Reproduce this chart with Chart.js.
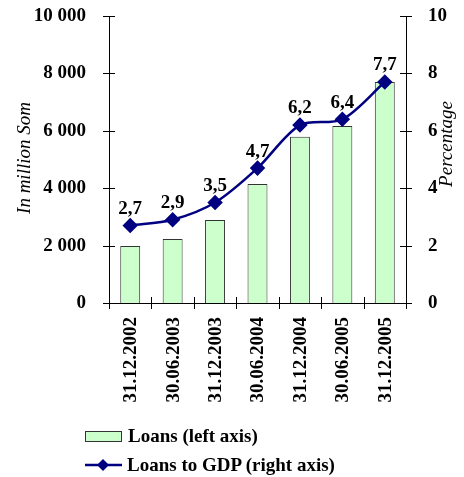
<!DOCTYPE html>
<html>
<head>
<meta charset="utf-8">
<script src="https://cdn.jsdelivr.net/npm/chart.js@4/dist/chart.umd.min.js"></script>
<style>
  html, body { margin: 0; padding: 0; background: #fff; }
  #wrap { position: relative; width: 464px; height: 477px; }
  #c { position: absolute; left: 0; top: 0; }
  .leg { position: absolute; left: 85px; font: 700 19px "Liberation Serif", "Times New Roman", serif; color: #000; display: flex; align-items: center; }
  .sw { width: 35px; height: 9px; background: #CCFFCC; border: 1px solid #333; margin-right: 6px; }
</style>
</head>
<body>
<div id="wrap">
  <canvas id="c" width="464" height="477"></canvas>
  <div class="leg" style="top:425px"><div class="sw"></div>Loans (left axis)</div>
  <div class="leg" style="top:454px">
    <svg width="42" height="14"><line x1="0" y1="7" x2="37" y2="7" stroke="#000080" stroke-width="2.5"/><polygon points="18,1 24,7 18,13 12,7" fill="#000080"/></svg>Loans to GDP (right axis)
  </div>
</div>
<script>
// categories and values
const dates = ['31.12.2002', '30.06.2003', '31.12.2003', '30.06.2004', '31.12.2004', '30.06.2005', '31.12.2005'];
const loans = [1990, 2230, 2890, 4150, 5790, 6170, 7700];   // million Som, left axis
const loansToGdp = [2.7, 2.9, 3.5, 4.7, 6.2, 6.4, 7.7];    // percent, right axis
const leftTicks = [0, 2000, 4000, 6000, 8000, 10000];
const rightTicks = [0, 2, 4, 6, 8, 10];

const serif = '"Liberation Serif", "Times New Roman", serif';

function fmtThousands(v) {
  return String(v).replace(/\B(?=(\d{3})+(?!\d))/g, ' ');
}

// tick marks crossing the axes, axis titles, rotated date labels, value labels
const excelBits = {
  id: 'excelBits',
  afterDraw(chart) {
    const ctx = chart.ctx;
    const a = chart.chartArea;
    const x = chart.scales.x, yl = chart.scales.yLeft, yr = chart.scales.yRight;
    ctx.save();
    ctx.strokeStyle = '#000';
    ctx.lineWidth = 1;
    ctx.beginPath();
    ctx.moveTo(a.left + 0.5, a.top); ctx.lineTo(a.left + 0.5, a.bottom + 0.5);
    ctx.moveTo(a.right + 0.5, a.top); ctx.lineTo(a.right + 0.5, a.bottom + 0.5);
    ctx.moveTo(a.left, a.bottom + 0.5); ctx.lineTo(a.right, a.bottom + 0.5);
    leftTicks.forEach(v => {
      const py = Math.round(yl.getPixelForValue(v)) + 0.5;
      ctx.moveTo(a.left - 6, py); ctx.lineTo(a.left + 6, py);
    });
    rightTicks.forEach(v => {
      const py = Math.round(yr.getPixelForValue(v)) + 0.5;
      ctx.moveTo(a.right - 6, py); ctx.lineTo(a.right + 6, py);
    });
    const w = (a.right - a.left) / dates.length;
    for (let i = 0; i <= dates.length; i++) {
      const px = Math.round(a.left + i * w) + 0.5;
      ctx.moveTo(px, a.bottom - 6); ctx.lineTo(px, a.bottom + 6);
    }
    ctx.stroke();

    ctx.fillStyle = '#000';

    // axis titles, both reading bottom to top
    ctx.font = 'italic 19px ' + serif;
    ctx.textAlign = 'center';
    ctx.textBaseline = 'middle';
    ctx.save();
    ctx.translate(25, 158);
    ctx.rotate(-Math.PI / 2);
    ctx.fillText('In million Som', 0, 0);
    ctx.restore();
    ctx.save();
    ctx.translate(447, 144);
    ctx.rotate(-Math.PI / 2);
    ctx.fillText('Percentage', 0, 0);
    ctx.restore();

    // date labels, reading bottom to top
    ctx.font = 'bold 19px ' + serif;
    ctx.textAlign = 'right';
    dates.forEach((d, i) => {
      const px = x.getPixelForValue(i);
      ctx.save();
      ctx.translate(px + 1, a.bottom + 14);
      ctx.rotate(-Math.PI / 2);
      ctx.fillText(d, 0, 0);
      ctx.restore();
    });

    // values above line points
    const meta = chart.getDatasetMeta(0);
    ctx.textAlign = 'center';
    ctx.textBaseline = 'bottom';
    meta.data.forEach((pt, i) => {
      ctx.fillText(loansToGdp[i].toFixed(1).replace('.', ','), pt.x, pt.y - 7);
    });
    ctx.restore();
  }
};

// keep tick label padding from pushing the plot area down
function trimPad(s) {
  s.paddingTop = 16;
  s.paddingBottom = 0;
}

new Chart(document.getElementById('c'), {
  data: {
    labels: dates,
    datasets: [
      {
        type: 'line',
        label: 'Loans to GDP (right axis)',
        data: loansToGdp,
        yAxisID: 'yRight',
        borderColor: '#000080',
        backgroundColor: '#000080',
        borderWidth: 2.5,
        tension: 0.3,
        pointStyle: 'rectRot',
        pointRadius: 6,
        pointHoverRadius: 6,
        order: 0
      },
      {
        type: 'bar',
        label: 'Loans (left axis)',
        data: loans,
        yAxisID: 'yLeft',
        backgroundColor: '#CCFFCC',
        borderColor: '#333333',
        borderWidth: 1,
        categoryPercentage: 1,
        barPercentage: 0.47,
        order: 1
      }
    ]
  },
  options: {
    responsive: false,
    animation: false,
    layout: { padding: { top: 16, bottom: 0, left: 0, right: 0 } },
    plugins: {
      legend: { display: false },
      tooltip: { enabled: false }
    },
    scales: {
      x: {
        grid: { display: false },
        border: { display: false },
        ticks: { display: false },
        afterFit(s) { s.height = 174; }
      },
      yLeft: {
        position: 'left',
        min: 0, max: 10000,
        afterBuildTicks(s) { s.ticks = leftTicks.map(v => ({ value: v })); },
        grid: { display: false },
        border: { display: false },
        ticks: {
          padding: 15,
          color: '#000',
          font: { family: serif, size: 19, weight: 'bold' },
          callback: v => fmtThousands(v)
        },
        afterFit(s) { s.width = 109; trimPad(s); }
      },
      yRight: {
        position: 'right',
        min: 0, max: 10,
        afterBuildTicks(s) { s.ticks = rightTicks.map(v => ({ value: v })); },
        grid: { display: false },
        border: { display: false },
        ticks: {
          padding: 14,
          color: '#000',
          font: { family: serif, size: 19, weight: 'bold' }
        },
        afterFit(s) { s.width = 58; trimPad(s); }
      }
    }
  },
  plugins: [excelBits]
});
</script>
</body>
</html>
